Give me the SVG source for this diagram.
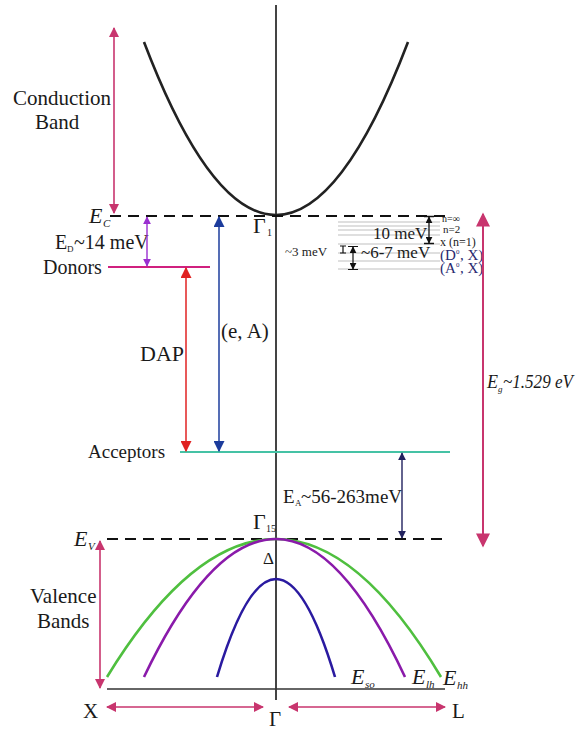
<svg xmlns="http://www.w3.org/2000/svg" width="577" height="731" viewBox="0 0 577 731" font-family="'Liberation Serif', 'DejaVu Serif', 'Times New Roman', serif">
<style>
text{font-family:'Liberation Serif','DejaVu Serif','Times New Roman',serif;fill:#1a1a1a}
.it{font-style:italic}
.dash{stroke:#111;stroke-width:2;stroke-dasharray:11,7;fill:none}
.lvl{stroke:#b8b8b8;stroke-width:0.9}
.crv{fill:none;stroke-width:2.6}
.nv{fill:#2a2a70}
</style>
<defs>
<marker id="mPink" viewBox="0 0 10 10" refX="9" refY="5" markerWidth="10" markerHeight="10" markerUnits="userSpaceOnUse" orient="auto-start-reverse"><path d="M0,0 L10,5 L0,10 z" fill="#c8356e"/></marker>
<marker id="mPinkL" viewBox="0 0 10 10" refX="9" refY="5" markerWidth="17" markerHeight="14" markerUnits="userSpaceOnUse" orient="auto-start-reverse"><path d="M0,0 L10,5 L0,10 z" fill="#c8356e"/></marker>
<marker id="mViolet" viewBox="0 0 10 10" refX="9" refY="5" markerWidth="8" markerHeight="8" markerUnits="userSpaceOnUse" orient="auto-start-reverse"><path d="M0,0 L10,5 L0,10 z" fill="#9a2fd0"/></marker>
<marker id="mRed" viewBox="0 0 10 10" refX="9" refY="5" markerWidth="11" markerHeight="11" markerUnits="userSpaceOnUse" orient="auto-start-reverse"><path d="M0,0 L10,5 L0,10 z" fill="#e02222"/></marker>
<marker id="mBlue" viewBox="0 0 10 10" refX="9" refY="5" markerWidth="11" markerHeight="11" markerUnits="userSpaceOnUse" orient="auto-start-reverse"><path d="M0,0 L10,5 L0,10 z" fill="#1c3c9c"/></marker>
<marker id="mNavy" viewBox="0 0 10 10" refX="9" refY="5" markerWidth="8" markerHeight="8" markerUnits="userSpaceOnUse" orient="auto-start-reverse"><path d="M0,0 L10,5 L0,10 z" fill="#22225e"/></marker>
<marker id="mBlk" viewBox="0 0 10 10" refX="9" refY="5" markerWidth="7" markerHeight="7" markerUnits="userSpaceOnUse" orient="auto-start-reverse"><path d="M0,0 L10,5 L0,10 z" fill="#111"/></marker>
</defs>

<g id="axis">
<line x1="276" y1="5" x2="276" y2="700" stroke="#444" stroke-width="2"/>
<line x1="107" y1="689" x2="445" y2="689" stroke="#333" stroke-width="1.6"/>
</g>

<g id="conduction-band">
<path class="crv" d="M144,42 Q276,388 408,42" stroke="#222" stroke-width="2"/>
<text x="13" y="105" font-size="21">Conduction</text>
<text x="35" y="129" font-size="21">Band</text>
<text x="253" y="233" font-size="22">Γ</text>
<text x="267" y="236" font-size="10">1</text>
</g>

<g id="Ec">
<line class="dash" x1="110" y1="216" x2="446" y2="216"/>
<text class="it" x="89" y="223" font-size="22">E</text>
<text class="it" x="103" y="227" font-size="11">C</text>
</g>

<g id="exciton-levels">
<line class="lvl" x1="338" y1="222" x2="440" y2="222"/>
<line class="lvl" x1="338" y1="226" x2="440" y2="226"/>
<line class="lvl" x1="338" y1="230" x2="440" y2="230"/>
<line class="lvl" x1="338" y1="235" x2="440" y2="235"/>
<line class="lvl" x1="338" y1="244" x2="440" y2="244"/>
<line class="lvl" x1="338" y1="253" x2="440" y2="253"/>
<line class="lvl" x1="338" y1="261" x2="440" y2="261"/>
<line class="lvl" x1="338" y1="269" x2="440" y2="269"/>
<text x="373" y="239" font-size="17">10 meV</text>
<text x="361" y="258" font-size="17">~6-7 meV</text>
<text x="285" y="256" font-size="13">~3 meV</text>
<text x="442" y="222" font-size="10" fill="#777">n=∞</text>
<text x="443" y="233" font-size="11" fill="#777">n=2</text>
<text x="440" y="246" font-size="12" fill="#777">x (n=1)</text>
<text class="nv" x="440" y="260" font-size="15">(D</text>
<text class="nv" x="456" y="254" font-size="7">0</text>
<text class="nv" x="460" y="260" font-size="15">, X)</text>
<text class="nv" x="440" y="273" font-size="15">(A</text>
<text class="nv" x="456" y="267" font-size="7">0</text>
<text class="nv" x="460" y="273" font-size="15">, X)</text>
</g>

<g id="donors">
<line x1="108" y1="267" x2="210" y2="267" stroke="#d0207f" stroke-width="2"/>
<text x="43" y="274" font-size="20">Donors</text>
<text x="55" y="249" font-size="20" fill="#a33acb">E</text>
<text x="67" y="252" font-size="9" fill="#a33acb">D</text>
<text x="74" y="249" font-size="20" fill="#a33acb">~14 meV</text>
</g>

<g id="acceptors">
<line x1="180" y1="452" x2="450" y2="452" stroke="#45c2a5" stroke-width="2"/>
<text x="88" y="458" font-size="19">Acceptors</text>
<text x="283" y="503" font-size="19" fill="#2e2e70">E</text>
<text x="295" y="506" font-size="9" fill="#2e2e70">A</text>
<text x="301" y="503" font-size="19" fill="#2e2e70">~56-263meV</text>
</g>

<g id="Ev">
<line class="dash" x1="107" y1="539" x2="446" y2="539"/>
<text class="it" x="74" y="546" font-size="22">E</text>
<text class="it" x="88" y="550" font-size="11">V</text>
<text x="253" y="529" font-size="22">Γ</text>
<text x="266" y="532" font-size="10">15</text>
<text x="263" y="564" font-size="17">Δ</text>
</g>

<g id="valence-bands">
<path class="crv" stroke="#4fbf3f" d="M107,677 Q191.5,539 276,539 Q358.5,539 441,677"/>
<path class="crv" stroke="#8a1aaa" d="M144,677 Q210,539 276,539 Q340.5,539 405,677"/>
<path class="crv" stroke="#2a1aa0" d="M217,677 Q246.5,579 276,579 Q305.5,579 335,677"/>
<text x="30" y="603" font-size="21">Valence</text>
<text x="37" y="628" font-size="21">Bands</text>
<text class="it" x="351" y="684" font-size="22">E</text>
<text class="it" x="365" y="688" font-size="11">so</text>
<text class="it" x="412" y="684" font-size="22">E</text>
<text class="it" x="426" y="688" font-size="11">lh</text>
<text class="it" x="443" y="685" font-size="22">E</text>
<text class="it" x="457" y="689" font-size="11">hh</text>
</g>

<g id="labels">
<text x="83" y="718" font-size="21">X</text>
<text x="269" y="726" font-size="21">Γ</text>
<text x="452" y="718" font-size="21">L</text>
<text class="it" x="487" y="388" font-size="18">E</text>
<text class="it" x="498" y="392" font-size="9">g</text>
<text class="it" x="503" y="388" font-size="18" textLength="70" lengthAdjust="spacingAndGlyphs">~1.529 eV</text>
<text x="140" y="361" font-size="22" fill="#d42a2a">DAP</text>
<text x="221" y="338" font-size="21" fill="#2a3a9a">(e, A)</text>
</g>

<g id="connectors">
<line x1="114" y1="28" x2="114" y2="213" stroke="#c8356e" stroke-width="1.6" marker-start="url(#mPink)" marker-end="url(#mPink)"/>
<line x1="100" y1="541" x2="100" y2="688" stroke="#c8356e" stroke-width="1.6" marker-start="url(#mPink)" marker-end="url(#mPink)"/>
<line x1="107" y1="707" x2="263" y2="707" stroke="#c8356e" stroke-width="1.6" marker-start="url(#mPink)" marker-end="url(#mPink)"/>
<line x1="289" y1="707" x2="445" y2="707" stroke="#c8356e" stroke-width="1.6" marker-start="url(#mPink)" marker-end="url(#mPink)"/>
<line x1="483" y1="214" x2="483" y2="546" stroke="#c8356e" stroke-width="2" marker-start="url(#mPinkL)" marker-end="url(#mPinkL)"/>
<line x1="147" y1="217" x2="147" y2="266" stroke="#9a2fd0" stroke-width="1.4" marker-start="url(#mViolet)" marker-end="url(#mViolet)"/>
<line x1="186" y1="268" x2="186" y2="451" stroke="#e02222" stroke-width="1.5" marker-start="url(#mRed)" marker-end="url(#mRed)"/>
<line x1="219" y1="217" x2="219" y2="451" stroke="#1c3c9c" stroke-width="1.5" marker-start="url(#mBlue)" marker-end="url(#mBlue)"/>
<line x1="402" y1="453" x2="402" y2="538" stroke="#22225e" stroke-width="1.4" marker-start="url(#mNavy)" marker-end="url(#mNavy)"/>
<line x1="429" y1="217" x2="429" y2="243" stroke="#111" stroke-width="1.3" marker-start="url(#mBlk)" marker-end="url(#mBlk)"/>
<path d="M424,216.5 H434 M424,243.5 H434" stroke="#111" stroke-width="1.3"/>
<line x1="353" y1="247" x2="353" y2="269" stroke="#111" stroke-width="1.2" marker-start="url(#mBlk)" marker-end="url(#mBlk)"/>
<path d="M348,246.5 H358 M348,269.5 H358" stroke="#111" stroke-width="1.2"/>
<path d="M343,246 V253 M340,246 H346 M340,253 H346" stroke="#111" stroke-width="1.2" fill="none"/>
</g>
</svg>
